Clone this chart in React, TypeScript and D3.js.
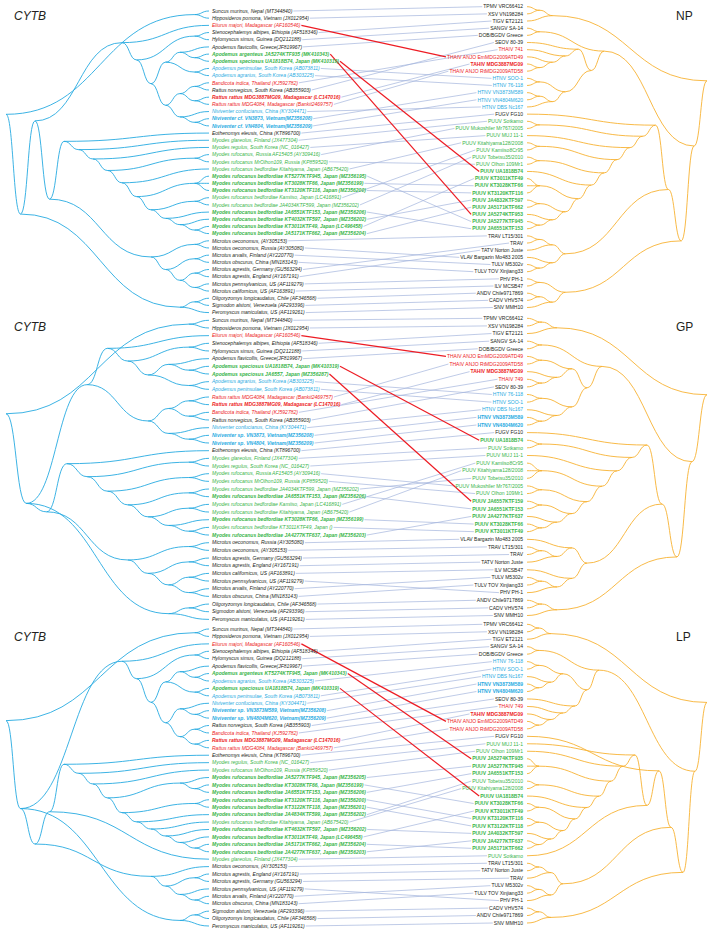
import React, { useEffect, useRef } from "react";
import * as d3 from "d3";

// ---------- DATA ----------
// left tips: [label, colour, bold, partner virus label, highlighted link]
const LEFT_1: [string, string, number, string, number][] = [
  ["Suncus murinus, Nepal (MT344840)", "k", 0, "TPMV VRC66412", 0],
  ["Hipposideros pomona, Vietnam (JX012954)", "k", 0, "XSV VN198284", 0],
  ["Eliurus majori, Madagascar (AF160546)", "r", 0, "THAIV ANJO EmMDG2009ATD49", 1],
  ["Stenocephalemys albipes, Ethiopia (AF518346)", "k", 0, "TIGV ET2121", 0],
  ["Hylomyscus simus, Guinea (DQ212188)", "k", 0, "SANGV SA-14", 0],
  ["Apodemus flavicollis, Greece(JF819967)", "k", 0, "DOB/BGDV Greece", 0],
  ["Apodemus argenteus JA5274KTF935 (MK410343)", "g", 1, "PUUV JA5274KTF953", 1],
  ["Apodemus speciosus UA1818B74, Japan (MK410319)", "g", 1, "PUUV UA1818B74", 1],
  ["Apodemus peninsulae, South Korea (AB073811)", "b", 0, "HTNV SOO-1", 0],
  ["Apodemus agrarius, South Korea (AB303225)", "b", 0, "HTNV 76-118", 0],
  ["Bandicota indica, Thailand (KJ592782)", "r", 0, "THAIV 741", 0],
  ["Rattus norvegicus, South Korea (AB355903)", "k", 0, "SEOV 80-39", 0],
  ["Rattus rattus MDG3887MG09, Madagascar (LC147016)", "r", 1, "TAHIV MDG3887MG09", 0],
  ["Rattus rattus MDG4084, Madagascar (Bankit2469757)", "r", 0, "THAIV ANJO RtMDG2009ATD58", 0],
  ["Niviventer confucianus, China (KY304471)", "b", 0, "HTNV DBS Nc167", 0],
  ["Niviventer cf. VN3873, Vietnam(MZ356208)", "b", 1, "HTNV VN3873M589", 0],
  ["Niviventer cf. VN4804, Vietnam(MZ356209)", "b", 1, "HTNV VN4804M620", 0],
  ["Eothenomys eleusis, China (KT896700)", "k", 0, "FUGV FG10", 0],
  ["Myodes glareolus, Finland (JX477304)", "g", 0, "PUUV Sotkamo", 0],
  ["Myodes regulus, South Korea (NC_016427)", "g", 0, "PUUV MUJ 11-1", 0],
  ["Myodes rufocanus, Russia AF15405 (AY309416)", "g", 0, "PUUV Mukoshiler Mr767/2005", 0],
  ["Myodes rufocanus MrOlhon109, Russia (KP859520)", "g", 0, "PUUV Olhon 109Mr1", 0],
  ["Myodes rufocanus bedfordiae Kitahiyama, Japan (AB675420)", "g", 0, "PUUV Kitahiyama128/2008", 0],
  ["Myodes rufocanus bedfordiae KT5277KTF945, Japan (MZ356195)", "g", 1, "PUUV JA5277KTF945", 0],
  ["Myodes rufocanus bedfordiae KT3028KTF66, Japan (MZ356199)", "g", 1, "PUUV KT3028KTF66", 0],
  ["Myodes rufocanus bedfordiae KT3120KTF116, Japan (MZ356200)", "g", 1, "PUUV KT3120KTF116", 0],
  ["Myodes rufocanus bedfordiae Kamiiso, Japan (LC416891)", "g", 0, "PUUV Kamiiso8Cr95", 0],
  ["Myodes rufocanus bedfordiae JA4034KTF599, Japan (MZ356202)", "g", 0, "PUUV Tobetsu35/2010", 0],
  ["Myodes rufocanus bedfordiae JA6551KTF153, Japan (MZ356206)", "g", 1, "PUUV JA6551KTF153", 0],
  ["Myodes rufocanus bedfordiae KT4032KTF597, Japan (MZ356202)", "g", 1, "PUUV JA4832KTF597", 0],
  ["Myodes rufocanus bedfordiae KT3011KTF49, Japan (LC496458)", "g", 1, "PUUV KT3011KTF49", 0],
  ["Myodes rufocanus bedfordiae JA5171KTF662, Japan (MZ356204)", "g", 1, "PUUV JA5171KTF662", 0],
  ["Microtus oeconomus, (AY305153)", "k", 0, "TRAV LT15/301", 0],
  ["Microtus oeconomus, Russia (AY305080)", "k", 0, "VLAV Bargazin Mo483 2005", 0],
  ["Microtus arvalis, Finland (AY220770)", "k", 0, "TULV M5302v", 0],
  ["Microtus obscurus, China (MN183143)", "k", 0, "TULV TOV Xinjiang33", 0],
  ["Microtus agrestis, Germany (GU563294)", "k", 0, "TRAV", 0],
  ["Microtus agrestis, England (AY167191)", "k", 0, "TATV Norton Juste", 0],
  ["Microtus pennsylvanicus, US (AF119279)", "k", 0, "PHV PH-1", 0],
  ["Microtus californicus, US (AF163891)", "k", 0, "ILV MCSB47", 0],
  ["Oligoryzomys longicaudatus, Chile (AF346568)", "k", 0, "ANDV Chile9717869", 0],
  ["Sigmodon alstoni, Venezuela (AF293396)", "k", 0, "CADV VHV574", 0],
  ["Peromyscus maniculatus, US (AF119261)", "k", 0, "SNV MMH10", 0],
];

const RIGHT_1: [string, string, number][] = [
  ["TPMV VRC66412", "k", 0], ["XSV VN198284", "k", 0], ["TIGV ET2121", "k", 0],
  ["SANGV SA-14", "k", 0], ["DOB/BGDV Greece", "k", 0], ["SEOV 80-39", "k", 0],
  ["THAIV 741", "r", 0], ["THAIV ANJO EmMDG2009ATD49", "r", 0], ["TAHIV MDG3887MG09", "r", 1],
  ["THAIV ANJO RtMDG2009ATD58", "r", 0], ["HTNV SOO-1", "b", 0], ["HTNV 76-118", "b", 0],
  ["HTNV VN3873M589", "b", 0], ["HTNV VN4804M620", "b", 0], ["HTNV DBS Nc167", "b", 0],
  ["FUGV FG10", "k", 0], ["PUUV Sotkamo", "g", 0], ["PUUV Mukoshiler Mr767/2005", "g", 0],
  ["PUUV MUJ 11-1", "g", 0], ["PUUV Kitahiyama128/2008", "g", 0], ["PUUV Kamiiso8Cr95", "g", 0],
  ["PUUV Tobetsu35/2010", "g", 0], ["PUUV Olhon 109Mr1", "g", 0], ["PUUV UA1818B74", "g", 1],
  ["PUUV KT3011KTF49", "g", 1], ["PUUV KT3028KTF66", "g", 1], ["PUUV KT3120KTF116", "g", 1],
  ["PUUV JA4832KTF597", "g", 1], ["PUUV JA5171KTF662", "g", 1], ["PUUV JA5274KTF953", "g", 1],
  ["PUUV JA5277KTF945", "g", 1], ["PUUV JA6551KTF153", "g", 1], ["TRAV LT15/301", "k", 0],
  ["TRAV", "k", 0], ["TATV Norton Juste", "k", 0], ["VLAV Bargazin Mo483 2005", "k", 0],
  ["TULV M5302v", "k", 0], ["TULV TOV Xinjiang33", "k", 0], ["PHV PH-1", "k", 0],
  ["ILV MCSB47", "k", 0], ["ANDV Chile9717869", "k", 0], ["CADV VHV574", "k", 0],
  ["SNV MMH10", "k", 0],
];

const LEFT_2: [string, string, number, string, number][] = [
  ["Suncus murinus, Nepal (MT344840)", "k", 0, "TPMV VRC66412", 0],
  ["Hipposideros pomona, Vietnam (JX012954)", "k", 0, "XSV VN198284", 0],
  ["Eliurus majori, Madagascar (AF160546)", "r", 0, "THAIV ANJO EmMDG2009ATD49", 1],
  ["Stenocephalemys albipes, Ethiopia (AF518346)", "k", 0, "TIGV ET2121", 0],
  ["Hylomyscus simus, Guinea (DQ212188)", "k", 0, "SANGV SA-14", 0],
  ["Apodemus flavicollis, Greece(JF819967)", "k", 0, "DOB/BGDV Greece", 0],
  ["Apodemus speciosus UA1818B74, Japan (MK410319)", "g", 1, "PUUV UA1818B74", 1],
  ["Apodemus speciosus JA6557, Japan (MZ356287)", "g", 1, "PUUV JA6557KTF159", 1],
  ["Apodemus agrarius, South Korea (AB303225)", "b", 0, "HTNV 76-118", 0],
  ["Apodemus peninsulae, South Korea (AB073811)", "b", 0, "HTNV SOO-1", 0],
  ["Rattus rattus MDG4084, Madagascar (Bankit2469757)", "r", 0, "THAIV ANJO RtMDG2009ATD58", 0],
  ["Rattus rattus MDG3887MG09, Madagascar (LC147016)", "r", 1, "TAHIV MDG3887MG09", 0],
  ["Bandicota indica, Thailand (KJ592782)", "r", 0, "THAIV 749", 0],
  ["Rattus norvegicus, South Korea (AB355903)", "k", 0, "SEOV 80-39", 0],
  ["Niviventer confucianus, China (KY304471)", "b", 0, "HTNV DBS Nc167", 0],
  ["Niviventer sp. VN3873, Vietnam(MZ356208)", "b", 1, "HTNV VN3873M589", 0],
  ["Niviventer sp. VN4804, Vietnam(MZ356209)", "b", 1, "HTNV VN4804M620", 0],
  ["Eothenomys eleusis, China (KT896700)", "k", 0, "FUGV FG10", 0],
  ["Myodes glareolus, Finland (JX477304)", "g", 0, "PUUV Sotkamo", 0],
  ["Myodes regulus, South Korea (NC_016427)", "g", 0, "PUUV MUJ 11-1", 0],
  ["Myodes rufocanus, Russia AF15405 (AY309416)", "g", 0, "PUUV Mukoshiler Mr767/2005", 0],
  ["Myodes rufocanus MrOlhon109, Russia (KP859520)", "g", 0, "PUUV Olhon 109Mr1", 0],
  ["Myodes rufocanus bedfordiae JA4034KTF599, Japan (MZ356202)", "g", 0, "PUUV Tobetsu35/2010", 0],
  ["Myodes rufocanus bedfordiae JA6551KTF153, Japan (MZ356206)", "g", 1, "PUUV JA6551KTF153", 0],
  ["Myodes rufocanus bedfordiae Kamiiso, Japan (LC416891)", "g", 0, "PUUV Kamiiso8Cr95", 0],
  ["Myodes rufocanus bedfordiae Kitahiyama, Japan (AB675420)", "g", 0, "PUUV Kitahiyama128/2008", 0],
  ["Myodes rufocanus bedfordiae KT3028KTF66, Japan (MZ356199)", "g", 1, "PUUV KT3028KTF66", 0],
  ["Myodes rufocanus bedfordiae KT3011KTF49, Japan ()", "g", 0, "PUUV KT3011KTF49", 0],
  ["Myodes rufocanus bedfordiae JA4277KTF637, Japan (MZ356203)", "g", 1, "PUUV JA4277KTF637", 0],
  ["Microtus oeconomus, Russia (AY305080)", "k", 0, "VLAV Bargazin Mo483 2005", 0],
  ["Microtus oeconomus, (AY305153)", "k", 0, "TRAV LT15/301", 0],
  ["Microtus agrestis, Germany (GU563294)", "k", 0, "TRAV", 0],
  ["Microtus agrestis, England (AY167191)", "k", 0, "TATV Norton Juste", 0],
  ["Microtus californicus, US (AF163891)", "k", 0, "ILV MCSB47", 0],
  ["Microtus pennsylvanicus, US (AF119279)", "k", 0, "PHV PH-1", 0],
  ["Microtus arvalis, Finland (AY220770)", "k", 0, "TULV M5302v", 0],
  ["Microtus obscurus, China (MN183143)", "k", 0, "TULV TOV Xinjiang33", 0],
  ["Oligoryzomys longicaudatus, Chile (AF346568)", "k", 0, "ANDV Chile9717869", 0],
  ["Sigmodon alstoni, Venezuela (AF293396)", "k", 0, "CADV VHV574", 0],
  ["Peromyscus maniculatus, US (AF119261)", "k", 0, "SNV MMH10", 0],
];

const RIGHT_2: [string, string, number][] = [
  ["TPMV VRC66412", "k", 0], ["XSV VN198284", "k", 0], ["TIGV ET2121", "k", 0],
  ["SANGV SA-14", "k", 0], ["DOB/BGDV Greece", "k", 0], ["THAIV ANJO EmMDG2009ATD49", "r", 0],
  ["THAIV ANJO RtMDG2009ATD58", "r", 0], ["TAHIV MDG3887MG09", "r", 1], ["THAIV 749", "r", 0],
  ["SEOV 80-39", "k", 0], ["HTNV 76-118", "b", 0], ["HTNV SOO-1", "b", 0],
  ["HTNV DBS Nc167", "b", 0], ["HTNV VN3873M589", "b", 1], ["HTNV VN4804M620", "b", 1],
  ["FUGV FG10", "k", 0], ["PUUV UA1818B74", "g", 1], ["PUUV Sotkamo", "g", 0],
  ["PUUV MUJ 11-1", "g", 0], ["PUUV Kamiiso8Cr95", "g", 0], ["PUUV Kitahiyama128/2008", "g", 0],
  ["PUUV Tobetsu35/2010", "g", 0], ["PUUV Mukoshiler Mr767/2005", "g", 0], ["PUUV Olhon 109Mr1", "g", 0],
  ["PUUV JA6557KTF159", "g", 1], ["PUUV JA6551KTF153", "g", 1], ["PUUV JA4277KTF637", "g", 1],
  ["PUUV KT3028KTF66", "g", 1], ["PUUV KT3011KTF49", "g", 1], ["VLAV Bargazin Mo483 2005", "k", 0],
  ["TRAV LT15/301", "k", 0], ["TRAV", "k", 0], ["TATV Norton Juste", "k", 0],
  ["ILV MCSB47", "k", 0], ["TULV M5302v", "k", 0], ["TULV TOV Xinjiang33", "k", 0],
  ["PHV PH-1", "k", 0], ["ANDV Chile9717869", "k", 0], ["CADV VHV574", "k", 0],
  ["SNV MMH10", "k", 0],
];

const LEFT_3: [string, string, number, string, number][] = [
  ["Suncus murinus, Nepal (MT344840)", "k", 0, "TPMV VRC66412", 0],
  ["Hipposideros pomona, Vietnam (JX012954)", "k", 0, "XSV VN198284", 0],
  ["Eliurus majori, Madagascar (AF160546)", "r", 0, "THAIV ANJO EmMDG2009ATD49", 1],
  ["Stenocephalemys albipes, Ethiopia (AF518346)", "k", 0, "TIGV ET2121", 0],
  ["Hylomyscus simus, Guinea (DQ212188)", "k", 0, "SANGV SA-14", 0],
  ["Apodemus flavicollis, Greece(JF819967)", "k", 0, "DOB/BGDV Greece", 0],
  ["Apodemus argenteus KT5274KTF945, Japan (MK410343)", "g", 1, "PUUV JA5274KTF935", 1],
  ["Apodemus agrarius, South Korea (AB303225)", "b", 0, "HTNV 76-118", 0],
  ["Apodemus speciosus UA1818B74, Japan (MK410319)", "g", 1, "PUUV UA1818B74", 1],
  ["Apodemus peninsulae, South Korea (AB073811)", "b", 0, "HTNV SOO-1", 0],
  ["Niviventer confucianus, China (KY304471)", "b", 0, "HTNV DBS Nc167", 0],
  ["Niviventer sp. VN3873M589, Vietnam(MZ356208)", "b", 1, "HTNV VN3873M589", 0],
  ["Niviventer sp. VN4804M620, Vietnam(MZ356209)", "b", 1, "HTNV VN4804M620", 0],
  ["Rattus norvegicus, South Korea (AB355903)", "k", 0, "SEOV 80-39", 0],
  ["Bandicota indica, Thailand (KJ592782)", "r", 0, "THAIV 749", 0],
  ["Rattus rattus MDG3887MG09, Madagascar (LC147016)", "r", 1, "TAHIV MDG3887MG09", 0],
  ["Rattus rattus MDG4084, Madagascar (Bankit2469757)", "r", 0, "THAIV ANJO RtMDG2009ATD58", 0],
  ["Eothenomys eleusis, China (KT896700)", "k", 0, "FUGV FG10", 0],
  ["Myodes regulus, South Korea (NC_016427)", "g", 0, "PUUV MUJ 11-1", 0],
  ["Myodes rufocanus MrOlhon109, Russia (KP859520)", "g", 0, "PUUV Olhon 109Mr1", 0],
  ["Myodes rufocanus bedfordiae JA5277KTF945, Japan (MZ356205)", "g", 1, "PUUV JA5277KTF945", 0],
  ["Myodes rufocanus bedfordiae KT3028KTF66, Japan (MZ356199)", "g", 1, "PUUV KT3028KTF66", 0],
  ["Myodes rufocanus bedfordiae JA6551KTF153, Japan (MZ356206)", "g", 1, "PUUV JA6551KTF153", 0],
  ["Myodes rufocanus bedfordiae KT3120KTF116, Japan (MZ356200)", "g", 1, "PUUV KT3120KTF116", 0],
  ["Myodes rufocanus bedfordiae KT3122KTF118, Japan (MZ356201)", "g", 1, "PUUV KT3122KTF118", 0],
  ["Myodes rufocanus bedfordiae JA4834KTF599, Japan (MZ356202)", "g", 1, "PUUV Tobetsu35/2010", 0],
  ["Myodes rufocanus bedfordiae Kitahiyama, Japan (AB675420)", "g", 0, "PUUV Kitahiyama128/2008", 0],
  ["Myodes rufocanus bedfordiae KT4632KTF597, Japan (MZ356202)", "g", 1, "PUUV JA4032KTF597", 0],
  ["Myodes rufocanus bedfordiae KT3011KTF49, Japan (LC496458)", "g", 1, "PUUV KT3011KTF49", 0],
  ["Myodes rufocanus bedfordiae JA5171KTF662, Japan (MZ356204)", "g", 1, "PUUV JA5171KTF662", 0],
  ["Myodes rufocanus bedfordiae JA4277KTF637, Japan (MZ356203)", "g", 1, "PUUV JA4277KTF637", 0],
  ["Myodes glareolus, Finland (JX477304)", "g", 0, "PUUV Sotkamo", 0],
  ["Microtus oeconomus, (AY305153)", "k", 0, "TRAV LT15/301", 0],
  ["Microtus agrestis, England (AY167191)", "k", 0, "TATV Norton Juste", 0],
  ["Microtus agrestis, Germany (GU563294)", "k", 0, "TRAV", 0],
  ["Microtus pennsylvanicus, US (AF119279)", "k", 0, "PHV PH-1", 0],
  ["Microtus arvalis, Finland (AY220770)", "k", 0, "TULV M5302v", 0],
  ["Microtus obscurus, China (MN183143)", "k", 0, "TULV TOV Xinjiang33", 0],
  ["Sigmodon alstoni, Venezuela (AF293396)", "k", 0, "CADV VHV574", 0],
  ["Oligoryzomys longicaudatus, Chile (AF346568)", "k", 0, "ANDV Chile9717869", 0],
  ["Peromyscus maniculatus, US (AF119261)", "k", 0, "SNV MMH10", 0],
];

const RIGHT_3: [string, string, number][] = [
  ["TPMV VRC66412", "k", 0], ["XSV VN198284", "k", 0], ["TIGV ET2121", "k", 0],
  ["SANGV SA-14", "k", 0], ["DOB/BGDV Greece", "k", 0], ["HTNV 76-118", "b", 0],
  ["HTNV SOO-1", "b", 0], ["HTNV DBS Nc167", "b", 0], ["HTNV VN3873M589", "b", 1],
  ["HTNV VN4804M620", "b", 1], ["SEOV 80-39", "k", 0], ["THAIV 749", "r", 0],
  ["TAHIV MDG3887MG09", "r", 1], ["THAIV ANJO EmMDG2009ATD49", "r", 0], ["THAIV ANJO RtMDG2009ATD58", "r", 0],
  ["FUGV FG10", "k", 0], ["PUUV MUJ 11-1", "g", 0], ["PUUV Olhon 109Mr1", "g", 0],
  ["PUUV JA5274KTF935", "g", 1], ["PUUV JA5277KTF945", "g", 1], ["PUUV JA6551KTF153", "g", 1],
  ["PUUV Tobetsu35/2010", "g", 0], ["PUUV Kitahiyama128/2008", "g", 0], ["PUUV UA1818B74", "g", 1],
  ["PUUV KT3028KTF66", "g", 1], ["PUUV KT3011KTF49", "g", 1], ["PUUV KT3120KTF116", "g", 1],
  ["PUUV KT3122KTF118", "g", 1], ["PUUV JA4032KTF597", "g", 1], ["PUUV JA4277KTF637", "g", 1],
  ["PUUV JA5171KTF662", "g", 1], ["PUUV Sotkamo", "g", 0], ["TRAV LT15/301", "k", 0],
  ["TATV Norton Juste", "k", 0], ["TRAV", "k", 0], ["TULV M5302v", "k", 0],
  ["TULV TOV Xinjiang33", "k", 0], ["PHV PH-1", "k", 0], ["CADV VHV574", "k", 0],
  ["ANDV Chile9717869", "k", 0], ["SNV MMH10", "k", 0],
];

// tree topologies (nested arrays of tip indices)
const LTREE_1 = [[0, 1], [[[2, [[3, 4], [[[5, [6, 7]], [8, 9]], [[[10, 11], [12, 13]], [14, [15, 16]]]]]],
  [[17, [18, [19, [[20, 21], [22, [[23, 24, 25], [[26, 27], [28, [29, [30, 31]]]]]]]]]],
   [[32, 33], [[34, 35], [[36, 37], [38, 39]]]]]], [[40, 41], 42]]];
const RTREE_1 = [[[0, 1], 2], [[[3, 4], [[5, [6, [7, [8, 9]]]], [[10, 11], [[12, 13], 14]]]],
  [[[15, [[16, 17], [18, [[19, 20], [[21, 22], [23, [[24, 25, 26], [[27, 28], [29, [30, 31]]]]]]]]]],
    [[[32, 33], 34], [35, [36, 37]]]], [[38, 39], [[40, 41], 42]]]]];

const LTREE_2 = [[0, 1], [[[2, [[3, 4], [[5, [6, 7]], [8, 9]]]], [[[10, 11], [12, 13]], [14, [15, 16]]]],
  [[17, [[18, 19], [[20, 21], [[22, 23], [[24, 25], [26, [27, 28]]]]]]],
   [[29, 30], [[31, 32], [[33, 34], [35, 36]]]]], [[37, 38], 39]]];
const RTREE_2 = [[[0, 1], 2], [[[3, 4], [[[5, 6], [7, [8, 9]]], [[10, 11], [12, [13, 14]]]]],
  [[[15, [[16, 17], [18, [[19, 20, 21], [[22, 23], [[24, 25], [26, [27, 28]]]]]]]],
    [[29, [[30, 31], 32]], [33, [[34, 35], 36]]]], [[37, 38], 39]]]];

const LTREE_3 = [[0, 1], [[2, [[3, 4], [[[5, [6, 7]], [8, 9]], [[10, [11, 12]], [[13, 14], [15, 16]]]]]],
  [[[17, [18, [19, [[20, [21, 22]], [[23, 24], [25, [26, [27, [28, [29, 30]]]]]]]]]], 31],
   [32, [[33, 34], [35, [36, 37]]]]], [[38, 39], 40]]];
const RTREE_3 = [[[0, 1], 2], [[[3, 4], [[[5, 6], [7, [8, 9]]], [10, [11, [12, [13, 14]]]]]],
  [[[15, [[16, [17, [[18, 19, 20], [[21, 22], [23, [[24, 25], [[26, 27], [28, [29, 30]]]]]]]]], 31]],
    [[[32, 33], 34], [[35, 36], 37]]], [[38, 39], 40]]]];

const HOST_TITLE = "CYTB";
const GENE_TITLES = ["NP", "GP", "LP"];

// ---------- STYLE / LAYOUT ----------
const COLORS: Record<string, string> = { k: "#231f20", r: "#ed1c24", g: "#39b54a", b: "#29abe2" };
const FONT = "'Liberation Sans', Arial, sans-serif";
const FS = 5;
const L_TIP = 209, L_ROOT = 6, L_TEXT = 212;
const R_TIP = 527, R_ROOT = 707, R_TEXT = 523;

const PANELS = [
  { left: LEFT_1, right: RIGHT_1, lt: LTREE_1, rt: RTREE_1, ly: [11, 312.6], ry: [6.7, 307.5], ty: 20, gene: GENE_TITLES[0] },
  { left: LEFT_2, right: RIGHT_2, lt: LTREE_2, rt: RTREE_2, ly: [320.3, 619.4], ry: [318.3, 615.5], ty: 331, gene: GENE_TITLES[1] },
  { left: LEFT_3, right: RIGHT_3, lt: LTREE_3, rt: RTREE_3, ly: [629, 926], ry: [624.3, 923], ty: 641, gene: GENE_TITLES[2] },
];

function toNode(n: any): any {
  return Array.isArray(n) ? { children: n.map(toNode) } : { leaf: n };
}

function drawTree(g: any, nested: any, y: (i: number) => number, xTip: number, xRoot: number, color: string) {
  const root: any = d3.hierarchy(toNode(nested));
  const H = root.height;
  root.eachAfter((n: any) => {
    n.py = n.children ? d3.mean(n.children, (c: any) => c.py) : y(n.data.leaf);
    n.px = xTip + (xRoot - xTip) * (n.height / H);
  });
  const link = d3.linkHorizontal<any, any>().x((d: any) => d.px).y((d: any) => d.py);
  g.append("g")
    .selectAll("path")
    .data(root.links())
    .join("path")
    .attr("d", link as any)
    .attr("fill", "none")
    .attr("stroke", color)
    .attr("stroke-width", 0.9);
}

export default function App() {
  const ref = useRef<SVGSVGElement>(null);
  useEffect(() => {
    const svg = d3.select(ref.current);
    svg.selectAll("*").remove();
    svg.append("rect").attr("width", 728).attr("height", 935).attr("fill", "#fff");

    PANELS.forEach((p) => {
      const g = svg.append("g");
      const yl = d3.scaleLinear().domain([0, p.left.length - 1]).range(p.ly);
      const yr = d3.scaleLinear().domain([0, p.right.length - 1]).range(p.ry);

      const linkG = g.append("g");
      const textG = g.append("g");

      const lt = textG.append("g").selectAll("text").data(p.left).join("text")
        .attr("x", L_TEXT).attr("y", (_d: any, i: number) => yl(i)).attr("dy", "0.35em")
        .attr("font-family", FONT).attr("font-size", FS).attr("font-style", "italic")
        .attr("font-weight", (d: any) => (d[2] ? "bold" : "normal"))
        .attr("fill", (d: any) => COLORS[d[1]]).text((d: any) => d[0]);
      const rt = textG.append("g").selectAll("text").data(p.right).join("text")
        .attr("x", R_TEXT).attr("y", (_d: any, i: number) => yr(i)).attr("dy", "0.35em")
        .attr("text-anchor", "end")
        .attr("font-family", FONT).attr("font-size", FS)
        .attr("font-weight", (d: any) => (d[2] ? "bold" : "normal"))
        .attr("fill", (d: any) => COLORS[d[1]]).text((d: any) => d[0]);

      const lw: number[] = [];
      lt.each(function (this: any) { lw.push(this.getComputedTextLength()); });
      const rw: number[] = [];
      rt.each(function (this: any) { rw.push(this.getComputedTextLength()); });
      const rIndex = new Map(p.right.map((d, i) => [d[0], i]));

      const links = p.left.map((d, i) => {
        const j = rIndex.get(d[3]) ?? 0;
        return { x1: L_TEXT + lw[i] + 1, y1: yl(i), x2: R_TEXT - rw[j] - 1, y2: yr(j), hl: d[4] };
      });
      const sorted = links.slice().sort((a, b) => a.hl - b.hl);
      linkG.selectAll("line").data(sorted).join("line")
        .attr("x1", (d) => d.x1).attr("y1", (d) => d.y1)
        .attr("x2", (d) => d.x2).attr("y2", (d) => d.y2)
        .attr("stroke", (d) => (d.hl ? "#ed1c24" : "#a3b4dc"))
        .attr("stroke-width", (d) => (d.hl ? 1.2 : 0.7));

      drawTree(g, p.lt, yl, L_TIP, L_ROOT, "#27aae1");
      drawTree(g, p.rt, yr, R_TIP, R_ROOT, "#f7b233");

      g.append("text").attr("x", 14).attr("y", p.ty).attr("font-family", FONT)
        .attr("font-size", 12).attr("font-style", "italic").attr("fill", "#231f20").text(HOST_TITLE);
      g.append("text").attr("x", 676).attr("y", p.ty).attr("font-family", FONT)
        .attr("font-size", 12).attr("fill", "#231f20").text(p.gene);
    });
  }, []);
  return (
    <svg ref={ref} width={728} height={935} style={{ position: "absolute", left: 0, top: 0 }} />
  );
}
